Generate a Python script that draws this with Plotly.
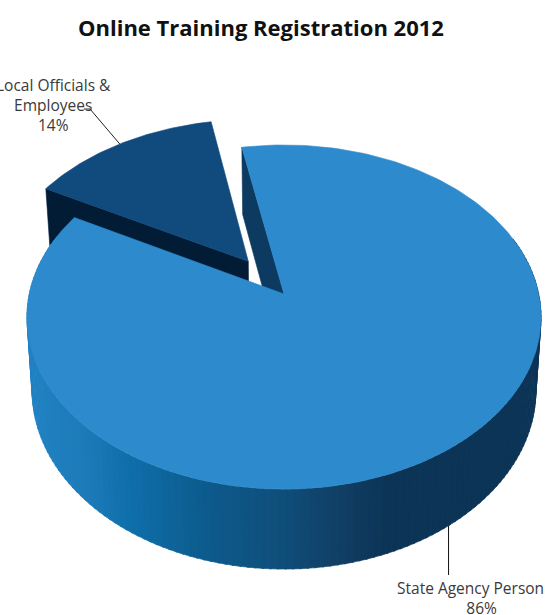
import numpy as np
import plotly.graph_objects as go

# Chart data
title = "Online Training Registration 2012"
categories = ["Local Officials & Employees", "State Agency Personnel"]
values = [14, 86]
label_breaks = {"Local Officials & Employees": "Local Officials &<br>Employees"}

# Perspective pie geometry, in canvas pixels
CX, CY = 284.0, 294.0      # projected pie centre
A, B = 254.7, 169.0        # horizontal and vertical radii
K = 0.134                  # foreshortening towards the back of the pie
DEPTH = 72.6               # extrusion height
BOTTOM_SCALE = 0.98        # base rim is slightly smaller than the top rim
BIG_START = -10.8          # clockwise degrees from twelve o'clock
EXPLODE = 0.245            # offset of the pulled-out slice

TOP_BIG = "#2d8bcd"
TOP_SMALL = "#114b7d"
CUT_SMALL = "#021c36"
CUT_BIG = "#0c3a60"
TEXT = "#3a3a3a"

# Side wall shading across the width of the pie
WALL_X = [28, 90, 130, 200, 280, 340, 385, 545]
WALL_RGB = [(33, 131, 196), (28, 122, 184), (15, 111, 170), (13, 92, 143),
            (15, 78, 122), (17, 62, 100), (12, 52, 86), (12, 52, 86)]


def project(x, y, bottom=False):
    w = 1 + K * np.asarray(y, float)
    s = BOTTOM_SCALE if bottom else 1.0
    px = CX + s * A * np.asarray(x, float) / w
    py = CY - s * B * np.asarray(y, float) / w
    if bottom:
        py = py + DEPTH / w
    return px, py


def arc(start, stop, n):
    t = np.radians(np.linspace(start, stop, n))
    return np.sin(t), np.cos(t)


def polygon(xs, ys, color):
    return go.Scatter(x=xs, y=ys, mode="lines", fill="toself", fillcolor=color,
                      line=dict(color=color, width=0.6), hoverinfo="skip",
                      showlegend=False)


big_sweep = 360 * values[1] / sum(values)
small_sweep = 360 * values[0] / sum(values)
big_end = BIG_START + big_sweep
small_start = big_end - 360
small_end = small_start + small_sweep
small_mid = np.radians((small_start + small_end) / 2)
ox, oy = EXPLODE * np.sin(small_mid), EXPLODE * np.cos(small_mid)

fig = go.Figure()

# Pulled-out slice: cut face first, then its top
ex, ey = np.sin(np.radians(small_start)) + ox, np.cos(np.radians(small_start)) + oy
p1 = project(ex, ey)
p2 = project(ox, oy)
p3 = project(ox, oy, bottom=True)
p4 = project(ex, ey, bottom=True)
fig.add_trace(polygon([p1[0], p2[0], p3[0], p4[0], p1[0]],
                      [p1[1], p2[1], p3[1], p4[1], p1[1]], CUT_SMALL))

sx, sy = arc(small_start, small_end, 60)
tx, ty = project(np.r_[0, sx] + ox, np.r_[0, sy] + oy)
fig.add_trace(polygon(list(tx) + [tx[0]], list(ty) + [ty[0]], TOP_SMALL))

# Main slice: exposed cut face at its start angle
ex, ey = np.sin(np.radians(BIG_START)), np.cos(np.radians(BIG_START))
p1 = project(ex, ey)
p2 = project(0, 0)
p3 = project(0, 0, bottom=True)
p4 = project(ex, ey, bottom=True)
fig.add_trace(polygon([p1[0], p2[0], p3[0], p4[0], p1[0]],
                      [p1[1], p2[1], p3[1], p4[1], p1[1]], CUT_BIG))

# Main slice: outer wall as narrow shaded bands along the front of the rim
edges = np.arange(70.0, 292.0, 1.5)
for a0, a1 in zip(edges[:-1], edges[1:]):
    bx, by = arc(a0, a1 + 0.4, 4)
    ux, uy = project(bx, by)
    lx, ly = project(bx, by, bottom=True)
    mid = (lx[0] + lx[-1]) / 2
    rgb = [int(round(np.interp(mid, WALL_X, [c[i] for c in WALL_RGB]))) for i in range(3)]
    color = f"rgb({rgb[0]},{rgb[1]},{rgb[2]})"
    fig.add_trace(polygon(list(ux) + list(lx[::-1]) + [ux[0]],
                          list(uy) + list(ly[::-1]) + [uy[0]], color))

# Main slice: top surface
bx, by = arc(BIG_START, big_end, 240)
tx, ty = project(np.r_[0, bx], np.r_[0, by])
fig.add_trace(polygon(list(tx) + [tx[0]], list(ty) + [ty[0]], TOP_BIG))

# Leader lines run from each slice's mid-rim to its label
lead_small = project(np.sin(small_mid) + ox, np.cos(small_mid) + oy)
fig.add_trace(go.Scatter(x=[84, 90, lead_small[0]], y=[109, 109, lead_small[1]],
                         mode="lines", line=dict(color="#222222", width=1),
                         hoverinfo="skip", showlegend=False))
big_mid = np.radians(BIG_START + big_sweep / 2)
lead_big = project(np.sin(big_mid), np.cos(big_mid), bottom=True)
fig.add_trace(go.Scatter(x=[lead_big[0], lead_big[0]], y=[lead_big[1], 575],
                         mode="lines", line=dict(color="#111111", width=1),
                         hoverinfo="skip", showlegend=False))


def label_text(i):
    return f"{label_breaks.get(categories[i], categories[i])}<br>{values[i]}%"


LABEL_FONT = dict(family="Liberation Sans Narrow, Open Sans, sans-serif", size=15.5, color=TEXT)
fig.add_annotation(x=53, y=105, text=label_text(0), showarrow=False, xanchor="center",
                   yanchor="middle", font=LABEL_FONT, align="center")
fig.add_annotation(x=481, y=598, text=label_text(1), showarrow=False, xanchor="center",
                   yanchor="middle", font=LABEL_FONT, align="center")
fig.add_annotation(x=261, y=27, text=f"<b>{title}</b>", showarrow=False, xanchor="center",
                   yanchor="middle",
                   font=dict(family="Liberation Sans Narrow, Open Sans, sans-serif", size=22, color="#111111"))

fig.update_layout(
    width=545, height=615, autosize=False,
    margin=dict(l=0, r=0, t=0, b=0),
    paper_bgcolor="white", plot_bgcolor="white", showlegend=False,
    xaxis=dict(range=[0, 545], visible=False, fixedrange=True),
    yaxis=dict(range=[615, 0], visible=False, fixedrange=True),
)
fig.write_html("out.html", config=dict(displayModeBar=False))
